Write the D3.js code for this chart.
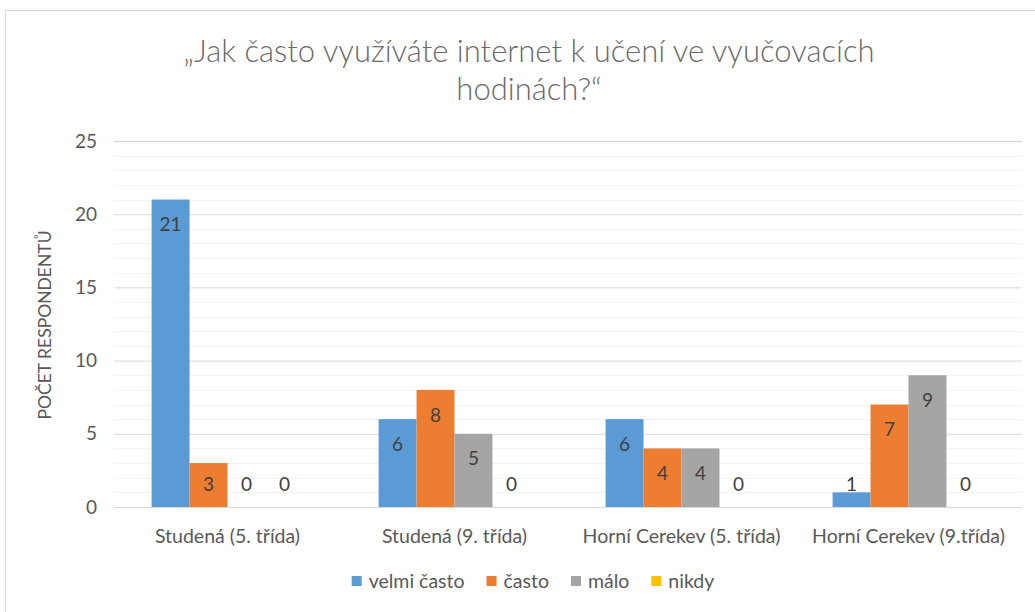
<!DOCTYPE html>
<html>
<head>
<meta charset="utf-8">
<script src="https://cdn.jsdelivr.net/npm/d3@7"></script>
<style>
  body { margin: 0; background: #fff; }
  text { font-family: Lato, "Liberation Sans", sans-serif; }
</style>
</head>
<body>
<script>
// Data
var categories = ["Studená (5. třída)", "Studená (9. třída)", "Horní Cerekev (5. třída)", "Horní Cerekev (9.třída)"];
var series = ["velmi často", "často", "málo", "nikdy"];
var velmiCasto = [21, 6, 6, 1];
var casto = [3, 8, 4, 7];
var malo = [0, 5, 4, 9];
var nikdy = [0, 0, 0, 0];
var yTicks = [0, 5, 10, 15, 20, 25];
var colors = ["#5B9BD5", "#ED7D31", "#A5A5A5", "#FFC000"];

var values = [velmiCasto, casto, malo, nikdy];
var rows = categories.map(function (c, i) {
	return { category: c, vals: series.map(function (s, j) { return { key: s, value: values[j][i] }; }) };
});

var w = 1035, h = 612;
var plotLeft = 114, plotRight = 1022, plotTop = 141, plotBottom = 507;

var svg = d3.select("body").append("svg")
	.attr("width", w)
	.attr("height", h);

// Chart border
svg.append("rect")
	.attr("x", 5.5).attr("y", 10.5)
	.attr("width", w + 10).attr("height", h + 10)
	.attr("fill", "none")
	.attr("stroke", "#d9d9d9");

var x0 = d3.scaleBand().domain(categories).range([plotLeft, plotRight]);
var x1 = d3.scaleBand().domain(series).range([0, x0.bandwidth()]).paddingInner(0).paddingOuter(0.99);
var y = d3.scaleLinear().domain([0, 25]).range([plotBottom, plotTop]);
var color = d3.scaleOrdinal().domain(series).range(colors);

// Minor gridlines
svg.append("g").selectAll("line")
	.data(d3.range(1, 25).filter(function (d) { return d % 5 !== 0; }))
	.enter().append("line")
	.attr("x1", plotLeft).attr("x2", plotRight)
	.attr("y1", function (d) { return Math.round(y(d)) + 0.5; })
	.attr("y2", function (d) { return Math.round(y(d)) + 0.5; })
	.attr("stroke", "#f2f2f2");

// Major gridlines + y labels
var yAxis = svg.append("g")
	.attr("transform", "translate(" + plotLeft + ",0)")
	.call(d3.axisLeft(y).tickValues(yTicks).tickSize(-(plotRight - plotLeft)).tickPadding(17));
yAxis.select(".domain").remove();
yAxis.selectAll(".tick line")
	.attr("stroke", "#d9d9d9");
yAxis.selectAll(".tick text")
	.attr("fill", "#595959")
	.style("font-size", "19px");

// Bars
var group = svg.append("g").selectAll("g")
	.data(rows)
	.enter().append("g")
	.attr("transform", function (d) { return "translate(" + x0(d.category) + ",0)"; });

group.selectAll("rect")
	.data(function (d) { return d.vals; })
	.enter().append("rect")
	.attr("x", function (d) { return x1(d.key); })
	.attr("width", x1.bandwidth())
	.attr("y", function (d) { return y(d.value); })
	.attr("height", function (d) { return plotBottom - y(d.value); })
	.attr("fill", function (d) { return color(d.key); });

// Value labels
group.selectAll("text.val")
	.data(function (d) { return d.vals; })
	.enter().append("text")
	.attr("class", "val")
	.attr("x", function (d) { return x1(d.key) + x1.bandwidth() / 2; })
	.attr("y", function (d) { return Math.min(y(d.value) + 25, plotBottom - 23); })
	.attr("dy", "0.35em")
	.attr("text-anchor", "middle")
	.attr("fill", "#404040")
	.style("font-size", "19px")
	.text(function (d) { return d.value; });

// Baseline
svg.append("line")
	.attr("x1", plotLeft).attr("x2", plotRight)
	.attr("y1", plotBottom + 0.5).attr("y2", plotBottom + 0.5)
	.attr("stroke", "#d9d9d9");

// Category labels
svg.append("g").selectAll("text")
	.data(categories)
	.enter().append("text")
	.attr("x", function (d) { return x0(d) + x0.bandwidth() / 2; })
	.attr("y", 536)
	.attr("dy", "0.35em")
	.attr("text-anchor", "middle")
	.attr("fill", "#595959")
	.style("font-size", "19.5px")
	.text(function (d) { return d; });

// Y axis title
svg.append("text")
	.attr("transform", "translate(45,325) rotate(-90)")
	.attr("dy", "0.35em")
	.attr("text-anchor", "middle")
	.attr("fill", "#595959")
	.style("font-size", "17.5px")
	.text("POČET RESPONDENTŮ");

// Title
var title = svg.append("text")
	.attr("text-anchor", "middle")
	.attr("fill", "#6a6a6a")
	.style("font-size", "31px")
	.style("font-weight", "300");
title.append("tspan").attr("x", 529).attr("y", 62).text("„Jak často využíváte internet k učení ve vyučovacích");
title.append("tspan").attr("x", 529).attr("y", 100).text("hodinách?“");

// Legend
var legend = svg.append("g");
var items = legend.selectAll("g")
	.data(series)
	.enter().append("g");
items.append("rect")
	.attr("width", 10).attr("height", 10)
	.attr("y", -5)
	.attr("fill", function (d) { return color(d); });
items.append("text")
	.attr("x", 17)
	.attr("dy", "0.35em")
	.attr("fill", "#595959")
	.style("font-size", "19.5px")
	.text(function (d) { return d; });
var pos = 0;
items.each(function () {
	var g = d3.select(this);
	g.attr("transform", "translate(" + pos + ",0)");
	pos += 17 + g.select("text").node().getComputedTextLength() + 22;
});
pos -= 22;
legend.attr("transform", "translate(" + (533 - pos / 2) + ",581)");
</script>
</body>
</html>
